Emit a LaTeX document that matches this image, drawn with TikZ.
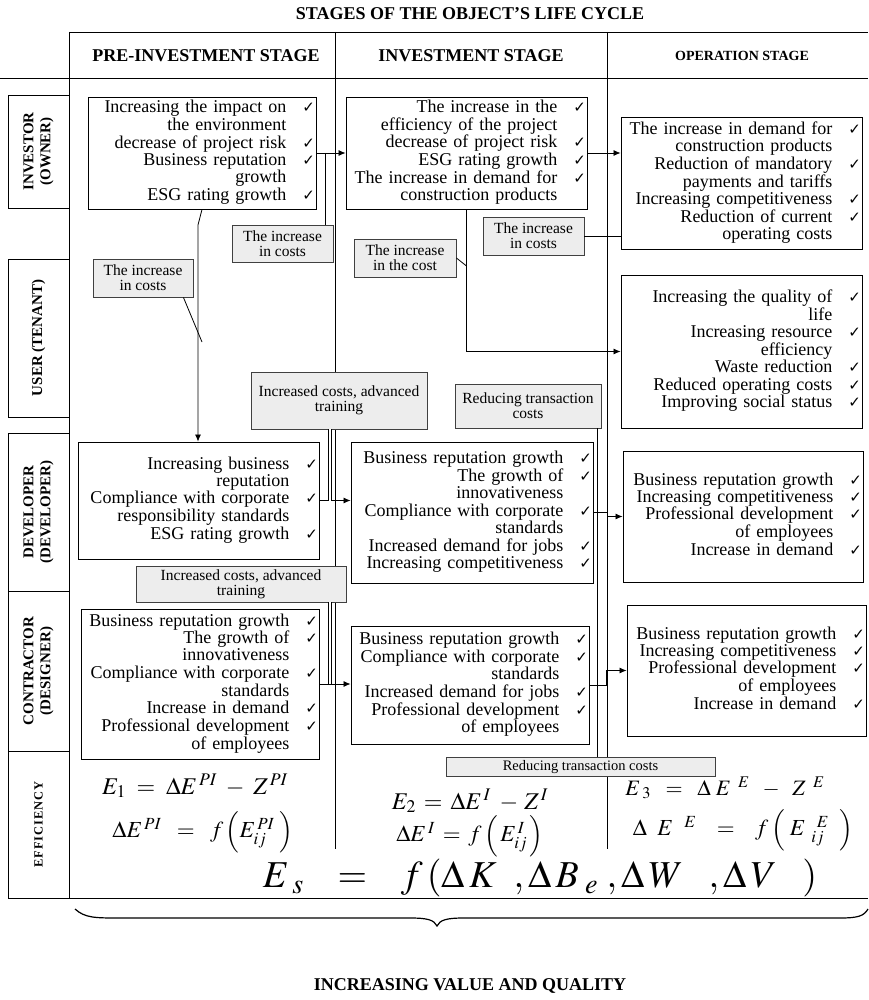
\documentclass[tikz,border=0pt]{standalone}
\usepackage{mathptmx}
\usepackage{fontspec}
\setmainfont{Liberation Serif}
\newfontfamily\chkfont{DejaVu Sans}
\usetikzlibrary{arrows.meta, calc}
\newcommand{\chk}{{\chkfont\fontsize{15}{15}\selectfont ✓}}
\newcommand{\itemsize}{\fontsize{18}{17}\selectfont}

\begin{document}
\begin{tikzpicture}[x=1pt, y=-1pt,
    every node/.style={inner sep=0pt},
    effect/.style={rectangle, draw, line width=0.9pt, align=right, font=\itemsize, inner xsep=1pt},
    cost/.style={rectangle, draw=black!75, line width=0.9pt, fill=black!7, align=center, font=\fontsize{15.5}{15}\selectfont},
    role/.style={rectangle, draw, line width=0.9pt, rotate=90, minimum height=61pt, align=center, font=\bfseries\fontsize{15}{17}\selectfont},
    stage/.style={font=\bfseries\fontsize{18}{18}\selectfont},
    formula/.style={font=\fontsize{23}{23}\selectfont},
    grid/.style={line width=0.9pt},
    arrow/.style={-{Latex[length=7pt, width=6pt]}, line width=0.8pt},
    link/.style={line width=0.8pt}]

  \useasboundingbox (0,0) rectangle (868,1000);

  % table
  \node[stage] (title) at (470,14) {STAGES OF THE OBJECT'S LIFE CYCLE};
  \draw[grid] (69.5,32) -- (868,32);
  \draw[grid] (0,78) -- (868,78);
  \draw[grid] (69.5,32) -- (69.5,898);
  \draw[grid] (335,32) -- (335,849);
  \draw[grid] (607,32) -- (607,849);
  \draw[grid] (8,898) -- (868,898);

  \node[stage] (pre) at (206,56) {PRE-INVESTMENT STAGE};
  \node[stage] (inv) at (471,56) {INVESTMENT STAGE};
  \node[stage, font=\bfseries\fontsize{14}{14}\selectfont] (ope) at (742,56) {OPERATION STAGE};

  % participants
  \node[role, minimum width=113pt] (investor) at (38.5,151.5) {INVESTOR\\(OWNER)};
  \node[role, minimum width=158pt] (user) at (38.5,338) {USER (TENANT)};
  \node[role, minimum width=158pt] (developer) at (38.5,512) {DEVELOPER\\(DEVELOPER)};
  \node[role, minimum width=160pt] (contractor) at (38.5,671) {CONTRACTOR\\(DESIGNER)};
  \node[role, minimum width=147pt, font=\bfseries\fontsize{12.5}{12}\selectfont\addfontfeatures{LetterSpace=8}] (efficiency) at (38.5,824.5) {EFFICIENCY};

  % effects
  \node[effect, text width=226pt, minimum height=112pt] (preinv) at (202,153) {\begin{tabular}{@{}r@{\hspace{16pt}}c@{}}
    Increasing the impact on\ & \chk\\ the environment & \\ decrease of project risk & \chk\\
    Business reputation\ & \chk\\ growth & \\ ESG rating growth & \chk\end{tabular}};
  \node[effect, text width=239pt, minimum height=112pt] (invinv) at (466.5,153) {\begin{tabular}{@{}r@{\hspace{16pt}}c@{}}
    The increase in the\ & \chk\\ efficiency of the project & \\ decrease of project risk & \chk\\
    ESG rating growth & \chk\\ The increase in demand for\ & \chk\\ construction products & \end{tabular}};
  \node[effect, text width=239pt, minimum height=132pt] (opeinv) at (741.5,183) {\begin{tabular}{@{}r@{\hspace{16pt}}c@{}}
    The increase in demand for\ & \chk\\ construction products & \\ Reduction of mandatory\ & \chk\\
    payments and tariffs & \\ Increasing competitiveness & \chk\\ Reduction of current\ & \chk\\
    operating costs & \end{tabular}};
  \node[effect, text width=239pt, minimum height=153pt] (opeuse) at (741.5,351.5) {\begin{tabular}{@{}r@{\hspace{16pt}}c@{}}
    Increasing the quality of\ & \chk\\ life & \\ Increasing resource\ & \chk\\ efficiency & \\
    Waste reduction & \chk\\ Reduced operating costs & \chk\\ Improving social status\ & \chk\end{tabular}};
  \node[effect, text width=239pt, minimum height=117pt] (predev) at (198.5,500.5) {\begin{tabular}{@{}r@{\hspace{16pt}}c@{}}
    Increasing business\ & \chk\\ reputation & \\ Compliance with corporate\ & \chk\\
    responsibility standards & \\ ESG rating growth & \chk\end{tabular}};
  \node[effect, text width=240pt, minimum height=141pt] (invdev) at (472,512.5) {\begin{tabular}{@{}r@{\hspace{16pt}}c@{}}
    Business reputation growth & \chk\\ The growth of\ & \chk\\ innovativeness & \\
    Compliance with corporate\ & \chk\\ standards & \\ Increased demand for jobs & \chk\\
    Increasing competitiveness & \chk\end{tabular}};
  \node[effect, text width=238pt, minimum height=131pt] (opedev) at (743,516.5) {\begin{tabular}{@{}r@{\hspace{16pt}}c@{}}
    Business reputation growth & \chk\\ Increasing competitiveness & \chk\\
    Professional development\ & \chk\\ of employees & \\ Increase in demand & \chk\end{tabular}};
  \node[effect, text width=236pt, minimum height=150pt] (precon) at (200,684) {\begin{tabular}{@{}r@{\hspace{16pt}}c@{}}
    Business reputation growth & \chk\\ The growth of\ & \chk\\ innovativeness & \\
    Compliance with corporate\ & \chk\\ standards & \\ Increase in demand & \chk\\
    Professional development\ & \chk\\ of employees & \end{tabular}};
  \node[effect, text width=236pt, minimum height=118pt] (invcon) at (470,685) {\begin{tabular}{@{}r@{\hspace{16pt}}c@{}}
    Business reputation growth & \chk\\ Compliance with corporate\ & \chk\\ standards & \\
    Increased demand for jobs & \chk\\ Professional development\ & \chk\\ of employees & \end{tabular}};
  \node[effect, text width=237pt, minimum height=131pt] (opecon) at (746.5,670.5) {\begin{tabular}{@{}r@{\hspace{16pt}}c@{}}
    Business reputation growth & \chk\\ Increasing competitiveness & \chk\\
    Professional development\ & \chk\\ of employees & \\ Increase in demand & \chk\end{tabular}};

  % costs
  \node[cost, minimum width=101pt, minimum height=37pt] (cost1) at (282.5,243.5) {The increase\\in costs};
  \node[cost, minimum width=100pt, minimum height=38pt] (cost2) at (143,278) {The increase\\in costs};
  \node[cost, minimum width=102pt, minimum height=38pt] (cost3) at (405,258) {The increase\\in the cost};
  \node[cost, minimum width=101pt, minimum height=38pt] (cost4) at (533.5,236) {The increase\\in costs};
  \node[cost, minimum width=176pt, minimum height=57pt] (train1) at (339,400.5) {Increased costs, advanced\\training};
  \node[cost, minimum width=210pt, minimum height=36pt] (train2) at (241,584) {Increased costs, advanced\\training};
  \node[cost, minimum width=146pt, minimum height=44pt] (trans1) at (528,406) {Reducing transaction\\costs};
  \node[cost, minimum width=269pt, minimum height=19pt, font=\fontsize{14.5}{14}\selectfont] (trans2) at (580.5,767) {Reducing transaction costs};

  % connectors
  \coordinate (fork1) at ($(preinv.east)!0.3!(invinv.west)$);
  \coordinate (bend1) at (198,225);
  \coordinate (hit2) at (202,342);
  \coordinate (hit3) at (466.5,266);
  \draw[arrow] (preinv.east) -- (invinv.west);
  \draw[link] (fork1) -- (fork1 |- cost1.north);
  \draw[arrow] (preinv.south) -- (bend1) -- (bend1 |- predev.north);
  \draw[link] ([xshift=-10pt]cost2.south east) -- (hit2);
  \draw[arrow] (invinv.east) -- (invinv.east -| opeinv.west);
  \draw[arrow] (invinv.south) |- (opeuse.west);
  \draw[link] (cost3.east) -- (hit3);
  \draw[link] (cost4.east) -- (cost4.east -| opeinv.west);
  \draw[arrow] (predev.east) -- (predev.east -| invdev.west);
  \draw[link, double, double distance=2.5pt, line width=0.7pt] ([xshift=-9pt]train1.south) -- ([xshift=-9pt]train1.south |- predev.east);
  \draw[arrow] (invdev.east) -- ++(14,0) |- (opedev.west);
  \draw[link] ([xshift=-4pt]trans1.south east) -- ([xshift=-4pt]trans1.south east |- trans2.north);
  \draw[arrow] (precon.east) -- (precon.east -| invcon.west);
  \draw[link, double, double distance=2.5pt, line width=0.7pt] ([xshift=89pt]train2.south) -- ([xshift=89pt]train2.south |- precon.east);
  \draw[arrow] (invcon.east) -- ++(17,0) |- (opecon.west);

  % efficiency
  \node[formula, font=\fontsize{24}{24}\selectfont] (e1) at (195,786) {$E_1 \;=\; \Delta E^{\,PI} \;-\; Z^{\,PI}$};
  \node[formula] (de1) at (203,832) {$\Delta E^{\,PI} \;\;=\;\; f\left(E_{ij}^{\,PI}\;\right)$};
  \node[formula, font=\fontsize{24}{24}\selectfont] (e2) at (470,801) {$E_2 \,=\, \Delta E^{\,I}\; -\, Z^{\,I}$};
  \node[formula] (de2) at (470,836) {$\Delta E^{\,I} \,=\, f\left(\,E_{ij}^{\,I}\,\right)$};
  \node[formula, font=\fontsize{22}{22}\selectfont] (e3) at (725,788) {$E_{\;3}\;\;=\;\;\Delta\;E^{\;\;E}\;\;-\;\;Z^{\;\;E}$};
  \node[formula] (de3) at (743,830) {$\Delta\;\;E^{\;\;\;E}\;\;\;=\;\;\;f\left(\;E_{\;\;ij}^{\;\;\;E}\;\;\right)$};
  \node[formula, font=\fontsize{38}{38}\selectfont] (es) at (540,878) {$E_{\;s}\;\;\;=\;\;\;f\left(\Delta\,K\;\;,\Delta\,B_{\;e}\;,\Delta\,W\;\;\;,\Delta\,V\;\;\;\right)$};

  \draw[line width=1.2pt] (75,909) .. controls (85,918) and (95,918) .. (120,918) -- (410,918)
    .. controls (428,918) and (434,920) .. (437,926) .. controls (440,920) and (446,918) .. (464,918)
    -- (840,918) .. controls (858,918) and (864,916) .. (868,909);
  \node[stage] (result) at (470,986) {INCREASING VALUE AND QUALITY};
\end{tikzpicture}
\end{document}
